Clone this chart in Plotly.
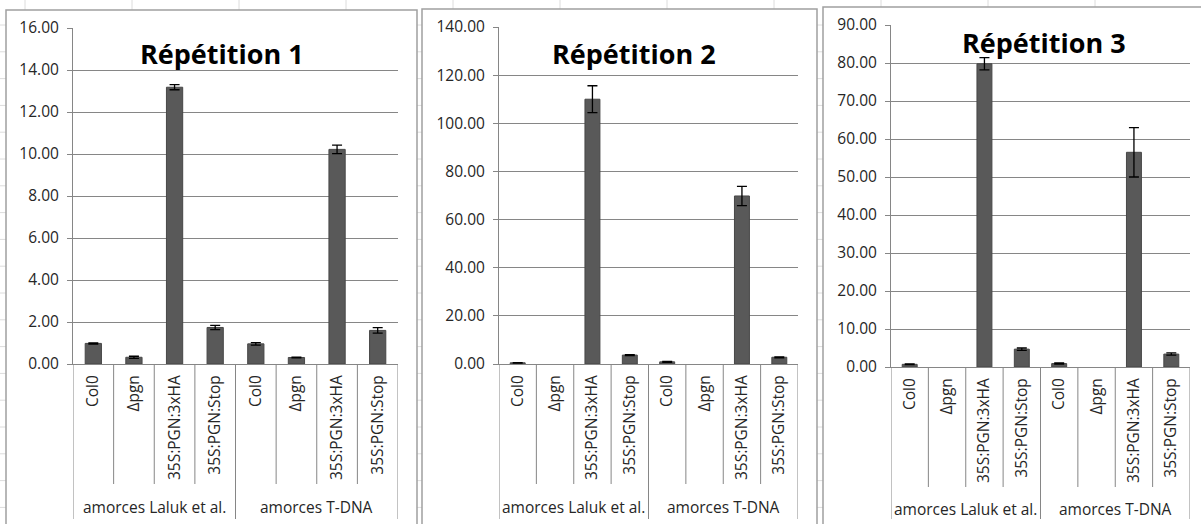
import plotly.graph_objects as go

W, H = 1201, 524

# data (None = no visible bar)
categories = ["Col0", "Δpgn", "35S:PGN:3xHA", "35S:PGN:Stop",
              "Col0", "Δpgn", "35S:PGN:3xHA", "35S:PGN:Stop"]
groups = ["amorces Laluk et al.", "amorces T-DNA"]
titles = ["Répétition 1", "Répétition 2", "Répétition 3"]

rep1 = [0.98, 0.32, 13.18, 1.74, 0.96, 0.31, 10.22, 1.60]
rep1_err = [0.03, 0.05, 0.12, 0.10, 0.06, 0.02, 0.20, 0.13]
rep2 = [0.5, None, 110.0, 3.7, 0.9, None, 69.8, 2.8]
rep2_err = [0.1, 0.0, 5.6, 0.2, 0.2, 0.0, 4.0, 0.2]
rep3 = [0.7, None, 79.8, 4.7, 0.9, None, 56.5, 3.4]
rep3_err = [0.1, 0.0, 1.6, 0.3, 0.15, 0.0, 6.5, 0.3]

y_max = [16, 140, 90]
y_step = [2, 20, 10]


def px(x):
    return x / W


def py(y):
    return 1 - y / H


# pixel layout of the three excel charts
panels = [
    dict(box=(6, 10, 417), plot=(73, 398), y0=364, ytop=28, title=(222, 53), grp_y=507, sep=484),
    dict(box=(422, 9, 817), plot=(499, 798), y0=364, ytop=27, title=(634, 53), grp_y=507, sep=484),
    dict(box=(823, 7, 1215), plot=(891, 1190), y0=367, ytop=25, title=(1044, 43), grp_y=509, sep=487),
]
series = [(rep1, rep1_err), (rep2, rep2_err), (rep3, rep3_err)]

FONT = "Open Sans"
GRID = "#868686"
TXT = "#262626"

fig = go.Figure()
shapes = []
annotations = []

# excel sheet cell grid in the background
for k in range(12):
    x = 25 + 107 * k
    shapes.append(dict(type="line", xref="paper", yref="paper", layer="below",
                       x0=px(x), x1=px(x), y0=0, y1=1,
                       line=dict(color="#dcdcdc", width=1)))
for k in range(20):
    y = 25 + 26.8 * k
    shapes.append(dict(type="line", xref="paper", yref="paper", layer="below",
                       x0=0, x1=1, y0=py(y), y1=py(y),
                       line=dict(color="#dcdcdc", width=1)))

for i, p in enumerate(panels):
    n = "" if i == 0 else str(i + 1)
    xa, ya = "x" + n, "y" + n
    vals, errs = series[i]

    bx0, by0, bx1 = p["box"]
    shapes.append(dict(type="rect", xref="paper", yref="paper", layer="below",
                       x0=px(bx0), x1=px(bx1), y0=py(by0), y1=-0.05,
                       fillcolor="white", line=dict(color="#a0a0a0", width=1.5)))

    fig.add_trace(go.Bar(
        x=list(range(len(categories))), y=vals, width=0.4,
        marker=dict(color="#595959", line=dict(color="#474747", width=1)),
        error_y=dict(type="data", array=errs, color="black", thickness=1.3, width=5),
        xaxis=xa, yaxis=ya, showlegend=False))

    l, r = p["plot"]
    fig.layout["xaxis" + n] = dict(
        domain=[px(l), px(r)], range=[-0.5, 7.5], anchor=ya, automargin=False,
        tickvals=list(range(len(categories))), ticktext=categories,
        tickangle=-90, ticks="", showgrid=False, zeroline=False,
        showline=True, linecolor=GRID, linewidth=1, ticklabelstandoff=4,
        tickfont=dict(family=FONT, size=15.5, color=TXT), fixedrange=True)
    fig.layout["yaxis" + n] = dict(
        domain=[py(p["y0"]), py(p["ytop"])], range=[0, y_max[i]], anchor=xa,
        automargin=False, dtick=y_step[i], tickformat=".2f", ticks="outside",
        ticklen=5, tickcolor=GRID, showgrid=True, gridcolor=GRID, gridwidth=1,
        zeroline=False, showline=True, linecolor=GRID, linewidth=1,
        ticklabelstandoff=5,
        tickfont=dict(family=FONT, size=15.5, color=TXT), fixedrange=True)

    # category / group separators under the axis
    for s in range(len(categories) + 1):
        bottom = 519 if s % 4 == 0 else p["sep"]
        shapes.append(dict(type="line", xref=xa, yref="paper",
                           x0=s - 0.5, x1=s - 0.5, y0=py(p["y0"]), y1=py(bottom),
                           line=dict(color=GRID, width=1)))
    for g, name in enumerate(groups):
        annotations.append(dict(text=name, xref=xa, yref="paper",
                                x=g * 4 + 1.5, y=py(p["grp_y"]),
                                xanchor="center", yanchor="middle", showarrow=False,
                                font=dict(family=FONT, size=15.5, color=TXT)))

    tx, ty = p["title"]
    annotations.append(dict(text="<b>" + titles[i] + "</b>", xref="paper", yref="paper",
                            x=px(tx), y=py(ty), xanchor="center", yanchor="middle",
                            showarrow=False, font=dict(family=FONT, size=27, color="black")))

fig.update_layout(
    width=W, height=H, autosize=False,
    margin=dict(l=0, r=0, t=0, b=0, pad=0, autoexpand=False),
    paper_bgcolor="white", plot_bgcolor="rgba(0,0,0,0)",
    shapes=shapes, annotations=annotations,
)

fig.write_html("out.html", config={"displayModeBar": False},
               post_script="document.body.style.margin='0';document.body.style.overflow='hidden';")
